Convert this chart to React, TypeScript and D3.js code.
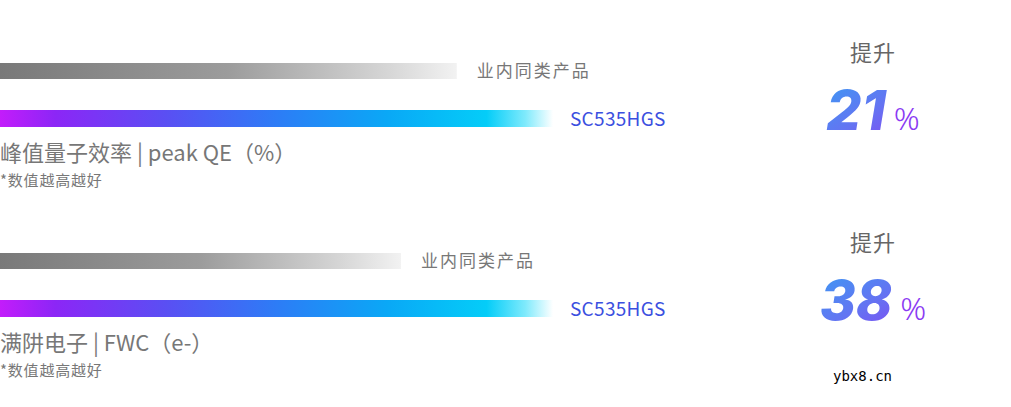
import { scaleLinear, scaleBand } from 'd3';

const metrics = ['峰值量子效率 | peak QE（%）', '满阱电子 | FWC（e-）'];
const competitorValues = [82.6, 72.5];
const ourValues = [100, 100];
const improvements = [21, 38];
const competitorLabel = '业内同类产品';
const ourLabel = 'SC535HGS';
const noteLabel = '*数值越高越好';
const upLabel = '提升';

const W = 1011;
const H = 407;
const CJK = '"Noto Sans CJK SC", "Noto Sans", sans-serif';

export default function App() {
  const x = scaleLinear().domain([0, 100]).range([0, 553]);
  const row = scaleBand<number>().domain([0, 1]).range([63, 443]).paddingInner(0);

  return (
    <div style={{ position: 'absolute', left: 0, top: 0, width: W, height: H, background: '#fff' }}>
      <svg width={W} height={H} style={{ display: 'block' }}>
        <defs>
          <linearGradient id="grayGrad" x1="0" x2="1" y1="0" y2="0">
            <stop offset="0" stopColor="#797979" />
            <stop offset="0.5" stopColor="#9c9c9c" />
            <stop offset="0.85" stopColor="#d6d6d6" />
            <stop offset="1" stopColor="#f2f2f2" />
          </linearGradient>
          <linearGradient id="colorGrad" x1="0" x2="1" y1="0" y2="0">
            <stop offset="0" stopColor="#c31cfb" />
            <stop offset="0.1" stopColor="#8c26f6" />
            <stop offset="0.3" stopColor="#5a4ff3" />
            <stop offset="0.5" stopColor="#2d7cf6" />
            <stop offset="0.7" stopColor="#0aa8f6" />
            <stop offset="0.88" stopColor="#04cdf8" />
            <stop offset="0.95" stopColor="#7feafc" />
            <stop offset="1" stopColor="#ffffff" />
          </linearGradient>
          <linearGradient id="numGrad" x1="0" x2="1" y1="0" y2="1">
            <stop offset="0" stopColor="#3a9cf3" />
            <stop offset="0.5" stopColor="#6474f2" />
            <stop offset="1" stopColor="#8b3af3" />
          </linearGradient>
        </defs>
        {metrics.map((m, i) => {
          const y0 = row(i) ?? 0;
          const cw = x(competitorValues[i]);
          const ow = x(ourValues[i]);
          return (
            <g key={m} transform={`translate(0,${y0})`}>
              <rect x={0} y={0} width={cw} height={16} fill="url(#grayGrad)" />
              <text x={cw + 20} y={8} dy="0.35em" fontFamily={CJK} fontSize={17} letterSpacing={2} fill="#777">
                {competitorLabel}
              </text>
              <rect x={0} y={47} width={ow} height={17} fill="url(#colorGrad)" />
              <text x={ow + 17} y={56} dy="0.35em" fontFamily={CJK} fontSize={19} letterSpacing={0.3} fill="#3b4fe0">
                {ourLabel}
              </text>
              <text x={0} y={90} dy="0.35em" fontFamily={CJK} fontSize={22} fill="#777">
                {m}
              </text>
              <text x={0} y={118} dy="0.35em" fontFamily={CJK} fontSize={15} letterSpacing={0.8} fill="#777">
                {noteLabel}
              </text>
              <text x={873} y={-10} dy="0.35em" textAnchor="middle" fontFamily={CJK} fontSize={22} letterSpacing={1} fill="#666">
                {upLabel}
              </text>
              <text x={873} y={67} fontFamily={CJK} fontSize={14} textAnchor="middle">
                <tspan fontFamily='Inter, "Noto Sans", sans-serif' fontStyle="italic" fontWeight={800} fontSize={55} fill="url(#numGrad)">
                  {improvements[i]}
                </tspan>
                <tspan dx={8} fontFamily='"Noto Sans", sans-serif' fontWeight={300} fontSize={32} fill="#8a3af3">
                  %
                </tspan>
              </text>
            </g>
          );
        })}
        <text x={833} y={381} fontFamily='"DejaVu Sans Mono", monospace' fontSize={14} fill="#000">
          ybx8.cn
        </text>
      </svg>
    </div>
  );
}
